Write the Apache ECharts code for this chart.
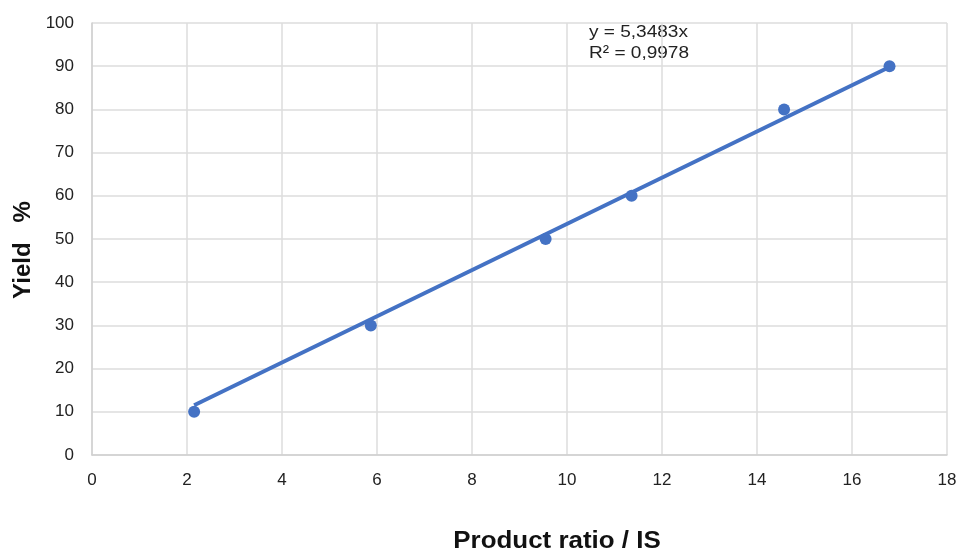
<!DOCTYPE html>
<html>
<head>
<meta charset="utf-8">
<script src="https://cdn.jsdelivr.net/npm/echarts@6/dist/echarts.min.js"></script>
<style>
  html, body { margin: 0; padding: 0; background: #fff; }
  #chart { width: 961px; height: 552px; }
</style>
</head>
<body>
<div id="chart"></div>
<script>
// Measured samples: product ratio vs. yield
const productRatio = [2.15, 5.87, 9.55, 11.36, 14.57, 16.79];
const yieldPct = [10, 30, 50, 60, 80, 90];

// Linear fit through the origin
const slope = 5.3483;
const rSquared = 0.9978;
const fitX = [2.15, 16.79];

const points = productRatio.map((x, i) => [x, yieldPct[i]]);
const fitLine = fitX.map(x => [x, slope * x]);

const fmt = (v, d) => v.toFixed(d).replace('.', ',');
const FONT = 'Liberation Sans';

const chart = echarts.init(document.getElementById('chart'));
chart.setOption({
  animation: false,
  backgroundColor: '#ffffff',
  grid: { left: 92, right: 14, top: 23, bottom: 97 },
  xAxis: {
    type: 'value', min: 0, max: 18, interval: 2,
    axisLine: { show: true, lineStyle: { color: '#d0d0d0', width: 1.5 } },
    axisTick: { show: false },
    axisLabel: { fontFamily: FONT, fontSize: 17, color: '#222', margin: 17 },
    splitLine: { show: true, lineStyle: { color: '#dcdcdc', width: 1.5 } }
  },
  yAxis: {
    type: 'value', min: 0, max: 100, interval: 10,
    axisLine: { show: true, lineStyle: { color: '#d0d0d0', width: 1.5 } },
    axisTick: { show: false },
    axisLabel: { fontFamily: FONT, fontSize: 17, color: '#222', margin: 18 },
    splitLine: { show: true, lineStyle: { color: '#dcdcdc', width: 1.5 } }
  },
  series: [
    {
      type: 'line', data: fitLine, showSymbol: false, silent: true,
      lineStyle: { color: '#4472c4', width: 4 }, z: 2
    },
    {
      type: 'scatter', data: points, symbol: 'circle', symbolSize: 12,
      itemStyle: { color: '#4472c4', opacity: 1 }, z: 3
    }
  ],
  graphic: [
    {
      type: 'text', x: 589, y: 32, scaleX: 1.12,
      style: {
        text: 'y = ' + fmt(slope, 4) + 'x',
        fontFamily: FONT, fontSize: 17, fill: '#222', verticalAlign: 'middle'
      }
    },
    {
      type: 'text', x: 589, y: 53, scaleX: 1.12,
      style: {
        text: 'R² = ' + fmt(rSquared, 4),
        fontFamily: FONT, fontSize: 17, fill: '#222', verticalAlign: 'middle'
      }
    },
    {
      type: 'text', x: 557, y: 541, scaleX: 1.08,
      style: {
        text: 'Product ratio / IS',
        fontFamily: FONT, fontSize: 24, fontWeight: 'bold', fill: '#111',
        align: 'center', verticalAlign: 'middle'
      }
    },
    {
      type: 'text', x: 23, y: 250, rotation: Math.PI / 2,
      style: {
        text: 'Yield   %',
        fontFamily: FONT, fontSize: 24, fontWeight: 'bold', fill: '#111',
        align: 'center', verticalAlign: 'middle'
      }
    }
  ]
});
</script>
</body>
</html>
